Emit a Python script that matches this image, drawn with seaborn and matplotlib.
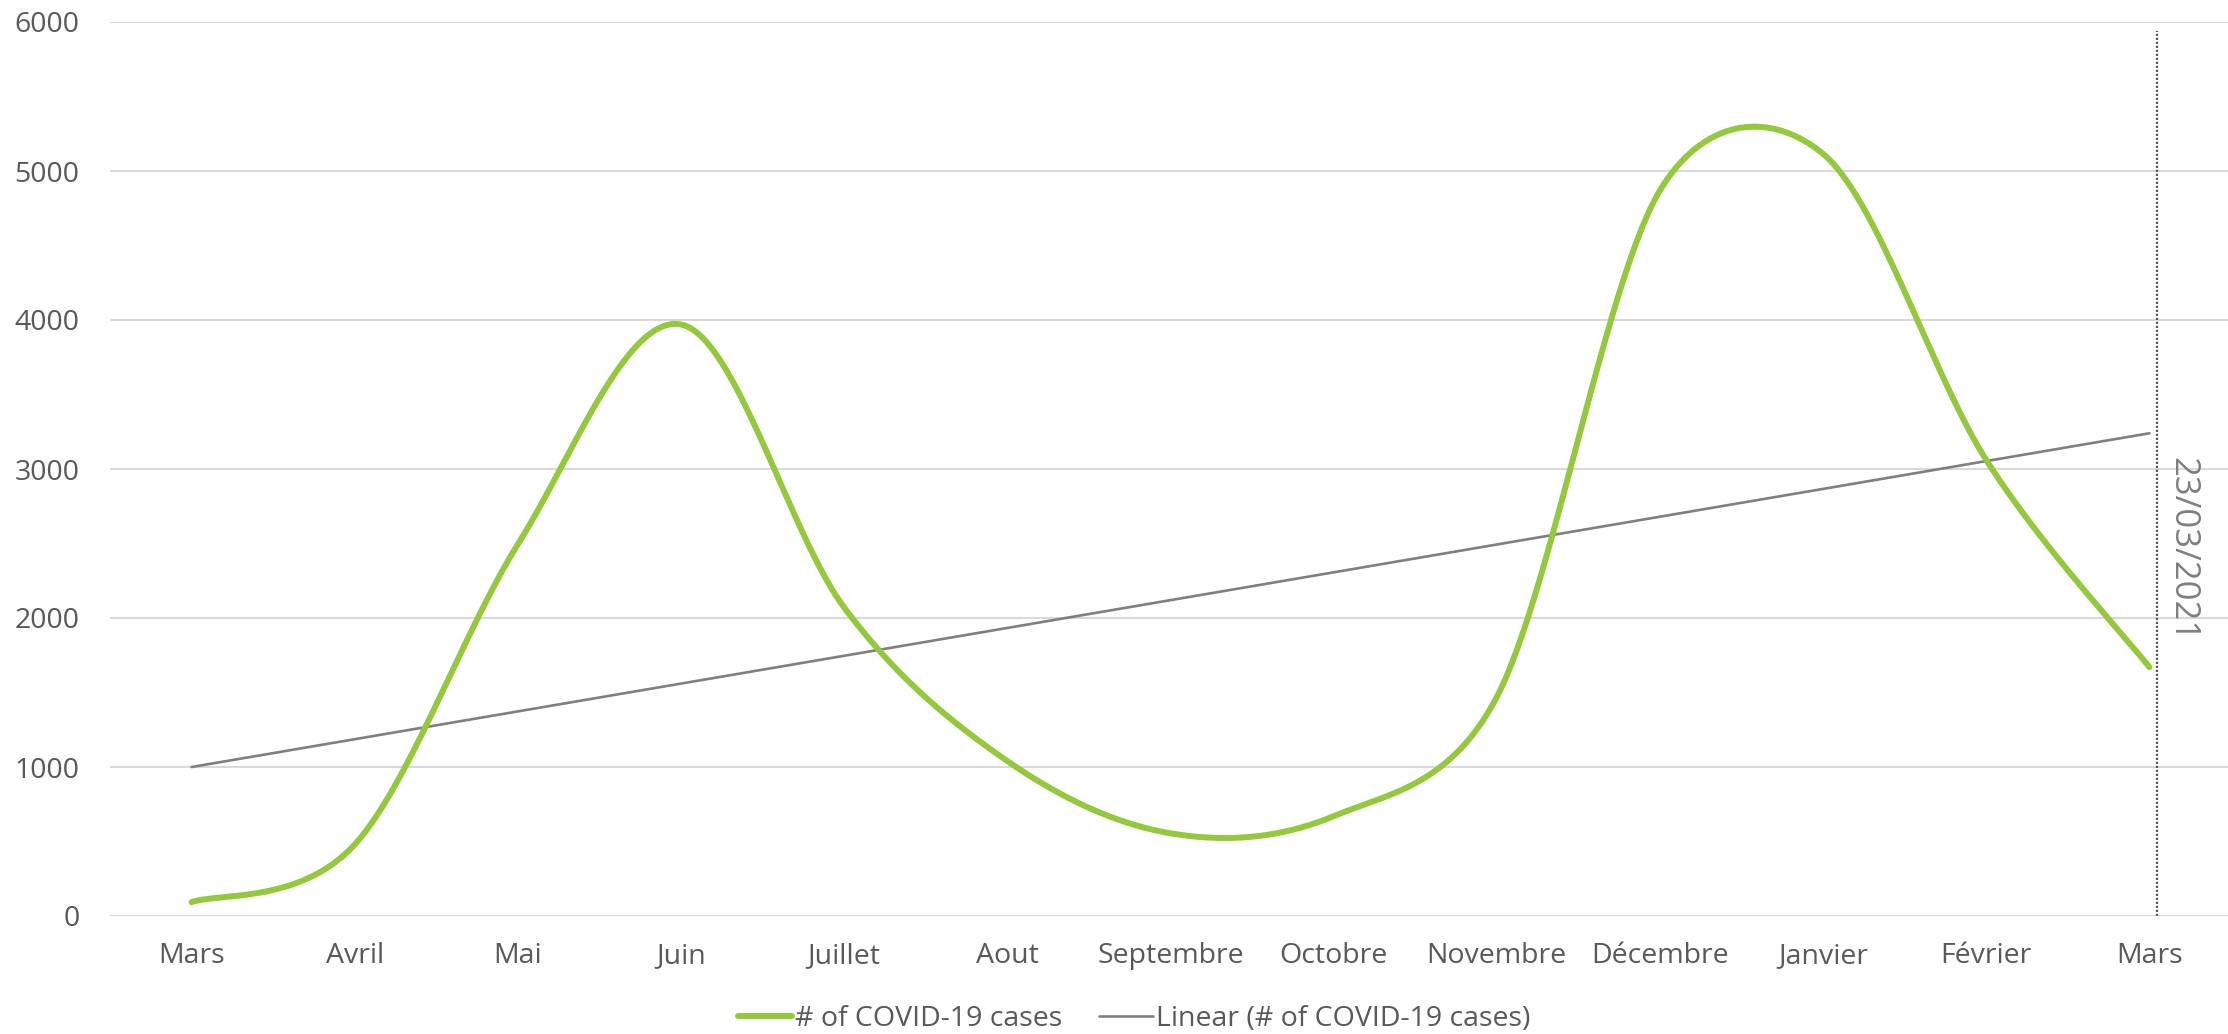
import numpy as np
import matplotlib
matplotlib.use("Agg")
import matplotlib.pyplot as plt
from matplotlib.lines import Line2D
import seaborn as sns

# ---- data ----
months = ["Mars", "Avril", "Mai", "Juin", "Juillet", "Aout", "Septembre",
          "Octobre", "Novembre", "Décembre", "Janvier", "Février", "Mars"]
cases = [93, 480, 2495, 3970, 2070, 1040, 555, 670, 1470, 4870, 5115, 3060, 1670]
y_ticks = [0, 1000, 2000, 3000, 4000, 5000, 6000]
series_label = "# of COVID-19 cases"
trend_label = "Linear (# of COVID-19 cases)"
marker_label = "23/03/2021"

GREEN = "#94C83D"
GREY_TREND = "#7F7F7F"
TEXT = "#595959"
GRID = "#D9D9D9"
FS = 20.5

sns.set_theme(style="white")
plt.rcParams["font.family"] = ["Open Sans", "DejaVu Sans"]

W, H = 2228, 1034
fig = plt.figure(figsize=(W / 100, H / 100), dpi=100)
left, right, top, bottom = 110, 2231, 22, 916
ax = fig.add_axes([left / W, 1 - bottom / H, (right - left) / W, (bottom - top) / H])

n = len(cases)
idx = np.arange(n)
ax.set_xlim(-0.5, n - 0.5)
ax.set_ylim(0, 6000)

# pixel scales (for Excel-like smoothing in screen space)
sx = (right - left) / n
sy = (bottom - top) / 6000.0


def excel_smooth(xv, yv, samples=60):
    P = np.column_stack([np.asarray(xv, float) * sx, np.asarray(yv, float) * sy])
    m = len(P)
    out = [P[0:1]]
    for i in range(m - 1):
        p0, p3 = P[i], P[i + 1]
        d0 = (P[i + 1] - P[i - 1]) if i > 0 else (P[1] - P[0])
        d1 = (P[i + 2] - P[i]) if i + 2 < m else (P[m - 1] - P[m - 2])
        seg = np.linalg.norm(p3 - p0)
        l0 = min(np.linalg.norm(d0) / 6.0, 0.5 * seg)
        l1 = min(np.linalg.norm(d1) / 6.0, 0.5 * seg)
        c1 = p0 + d0 / np.linalg.norm(d0) * l0
        c2 = p3 - d1 / np.linalg.norm(d1) * l1
        t = np.linspace(0, 1, samples)[1:, None]
        b = ((1 - t) ** 3) * p0 + 3 * ((1 - t) ** 2) * t * c1 + 3 * (1 - t) * t ** 2 * c2 + t ** 3 * p3
        out.append(b)
    B = np.vstack(out)
    return B[:, 0] / sx, B[:, 1] / sy


xs, ys = excel_smooth(idx, cases)

# gridlines
for yt in y_ticks:
    ax.axhline(yt, color=GRID, lw=1.5, zorder=0)

# trend line (linear regression of the series)
slope, intercept = np.polyfit(idx, cases, 1)
tx = np.array([0, n - 1])
sns.lineplot(x=tx, y=slope * tx + intercept, ax=ax, color=GREY_TREND, lw=1.9,
             estimator=None, sort=False, zorder=2)

# smoothed series
sns.lineplot(x=xs, y=ys, ax=ax, color=GREEN, lw=4.3, estimator=None, sort=False,
             zorder=3, solid_capstyle="round")

# date marker
mx = n - 1 + 0.045
ax.vlines(mx, 0, 5940, colors=TEXT, linestyles=(0, (1, 0.8)), lw=1.6, zorder=2)
ax.text(mx + 0.155, 2460, marker_label, rotation=270, ha="center", va="center",
        fontsize=25, color="#7F7F7F")

# axes styling
for s in ax.spines.values():
    s.set_visible(False)
ax.set_xticks(idx)
ax.set_xticklabels(months, fontsize=FS, color=TEXT)
ax.set_yticks(y_ticks)
ax.set_yticklabels([str(v) for v in y_ticks], fontsize=FS, color=TEXT)
ax.tick_params(axis="x", length=0, pad=19)
ax.tick_params(axis="y", length=0, pad=22)
ax.grid(False)
ax.set_xlabel("")
ax.set_ylabel("")

handles = [Line2D([0], [0], color=GREEN, lw=4.3, solid_capstyle="round"),
           Line2D([0], [0], color=GREY_TREND, lw=1.9)]
fig.legend(handles, [series_label, trend_label], loc="center",
           bbox_to_anchor=(0.509, 0.0145), ncol=2, frameon=False,
           fontsize=FS, handlelength=1.9, handletextpad=0.1, columnspacing=1.3,
           labelcolor=TEXT)

fig.savefig("out.png", dpi=100, facecolor="white")
